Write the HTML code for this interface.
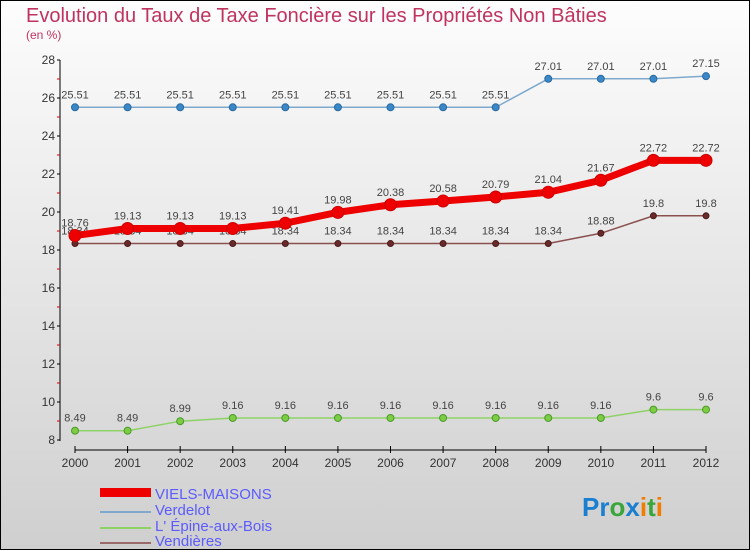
<!DOCTYPE html>
<html><head><meta charset="utf-8"><style>
body{margin:0;width:750px;height:550px;overflow:hidden;font-family:"Liberation Sans",sans-serif}
svg{display:block}
</style></head><body>
<svg width="750" height="550">
<defs><linearGradient id="bg" x1="0" y1="0" x2="0" y2="1"><stop offset="0" stop-color="#fdfdfd"/><stop offset="1" stop-color="#cfcfcf"/></linearGradient></defs>
<rect x="0.5" y="0.5" width="749" height="549" fill="url(#bg)" stroke="#000"/>
<text x="26" y="22" font-size="20" fill="#c0335e">Evolution du Taux de Taxe Foncière sur les Propriétés Non Bâties</text>
<text x="26" y="39" font-size="12" fill="#c0335e">(en %)</text>
<g id="axes"></g>
<g id="series"></g>
<g>
<rect x="100" y="488" width="51" height="9" fill="#e00"/>
<text x="155" y="499" font-size="15" fill="#5b5bff">VIELS-MAISONS</text>
<line x1="100" y1="512" x2="151" y2="512" stroke="#7fa9cc" stroke-width="2"/>
<text x="155" y="515" font-size="15" fill="#5b5bff">Verdelot</text>
<line x1="100" y1="528" x2="151" y2="528" stroke="#8ed266" stroke-width="2"/>
<text x="155" y="531" font-size="15" fill="#5b5bff">L' Épine-aux-Bois</text>
<line x1="100" y1="543" x2="151" y2="543" stroke="#9a6a6a" stroke-width="2"/>
<text x="155" y="546" font-size="15" fill="#5b5bff">Vendières</text>
</g>
<text x="582" y="516" font-size="26" font-weight="bold"><tspan fill="#1a7fd0">Pr</tspan><tspan fill="#3aa53a">o</tspan><tspan fill="#1a7fd0">x</tspan><tspan fill="#f07c00">i</tspan><tspan fill="#3aa53a">t</tspan><tspan fill="#f07c00">i</tspan></text>
</svg>
<script>
const years=[2000,2001,2002,2003,2004,2005,2006,2007,2008,2009,2010,2011,2012];
const yTicks=[8,10,12,14,16,18,20,22,24,26,28];
const viels=[18.76,19.13,19.13,19.13,19.41,19.98,20.38,20.58,20.79,21.04,21.67,22.72,22.72];
const verdelot=[25.51,25.51,25.51,25.51,25.51,25.51,25.51,25.51,25.51,27.01,27.01,27.01,27.15];
const epine=[8.49,8.49,8.99,9.16,9.16,9.16,9.16,9.16,9.16,9.16,9.16,9.6,9.6];
const vendieres=[18.34,18.34,18.34,18.34,18.34,18.34,18.34,18.34,18.34,18.34,18.88,19.8,19.8];
const NS='http://www.w3.org/2000/svg';
const x=i=>75+i*(706-75)/(years.length-1);
const y=v=>60+(28-v)*19;
function mk(p,t,a){const e=document.createElementNS(NS,t);for(const k in a)e.setAttribute(k,a[k]);p.appendChild(e);return e;}
const ax=document.getElementById('axes');
let l=mk(ax,'line',{x1:60,y1:60,x2:60,y2:441,stroke:'#000'});


l=mk(ax,'line',{x1:75,y1:450,x2:706,y2:450,stroke:'#000'});


yTicks.forEach(v=>{mk(ax,'line',{x1:57,y1:y(v),x2:60,y2:y(v),stroke:'#000'});
 const t=mk(ax,'text',{x:55,y:y(v)+4,'font-size':12,'text-anchor':'end',fill:'#333'});t.textContent=v;
 
 
 if(v<28)mk(ax,'line',{x1:57,y1:y(v+1),x2:60,y2:y(v+1),stroke:'#d00'});});
years.forEach((yr,i)=>{mk(ax,'line',{x1:x(i),y1:446,x2:x(i),y2:453,stroke:'#000'});
 const t=mk(ax,'text',{x:x(i),y:467,'font-size':12,'text-anchor':'middle',fill:'#333'});t.textContent=yr;
 
 });
const sg=document.getElementById('series');
function series(name,data,col,fill,w,r,lc){
 const g=mk(sg,'g',{});
 
 
 mk(g,'polyline',{points:data.map((v,i)=>x(i)+','+y(v)).join(' '),fill:'none',stroke:col,'stroke-width':w});
 data.forEach((v,i)=>{const c=mk(g,'circle',{cx:x(i),cy:y(v),r:r,fill:fill,stroke:lc,'stroke-width':1});
  
  
  const t=mk(g,'text',{x:x(i),y:y(v)-9,'font-size':11,'text-anchor':'middle',fill:'#444'});t.textContent=v;
  
  });
}
series('vendieres-series',vendieres,'#8a5050','#6a2a2a',1.5,3,'#4a1a1a');
series('epine-series',epine,'#8ed266','#7ccc44',1.5,3.5,'#4a9a2a');
series('verdelot-series',verdelot,'#7fa9cc','#3a88c8',1.5,3.5,'#2a6aa0');
series('viels-maisons-series',viels,'#ee0000','#ee0000',7,6,'#cc0000');
</script>
</body></html>
